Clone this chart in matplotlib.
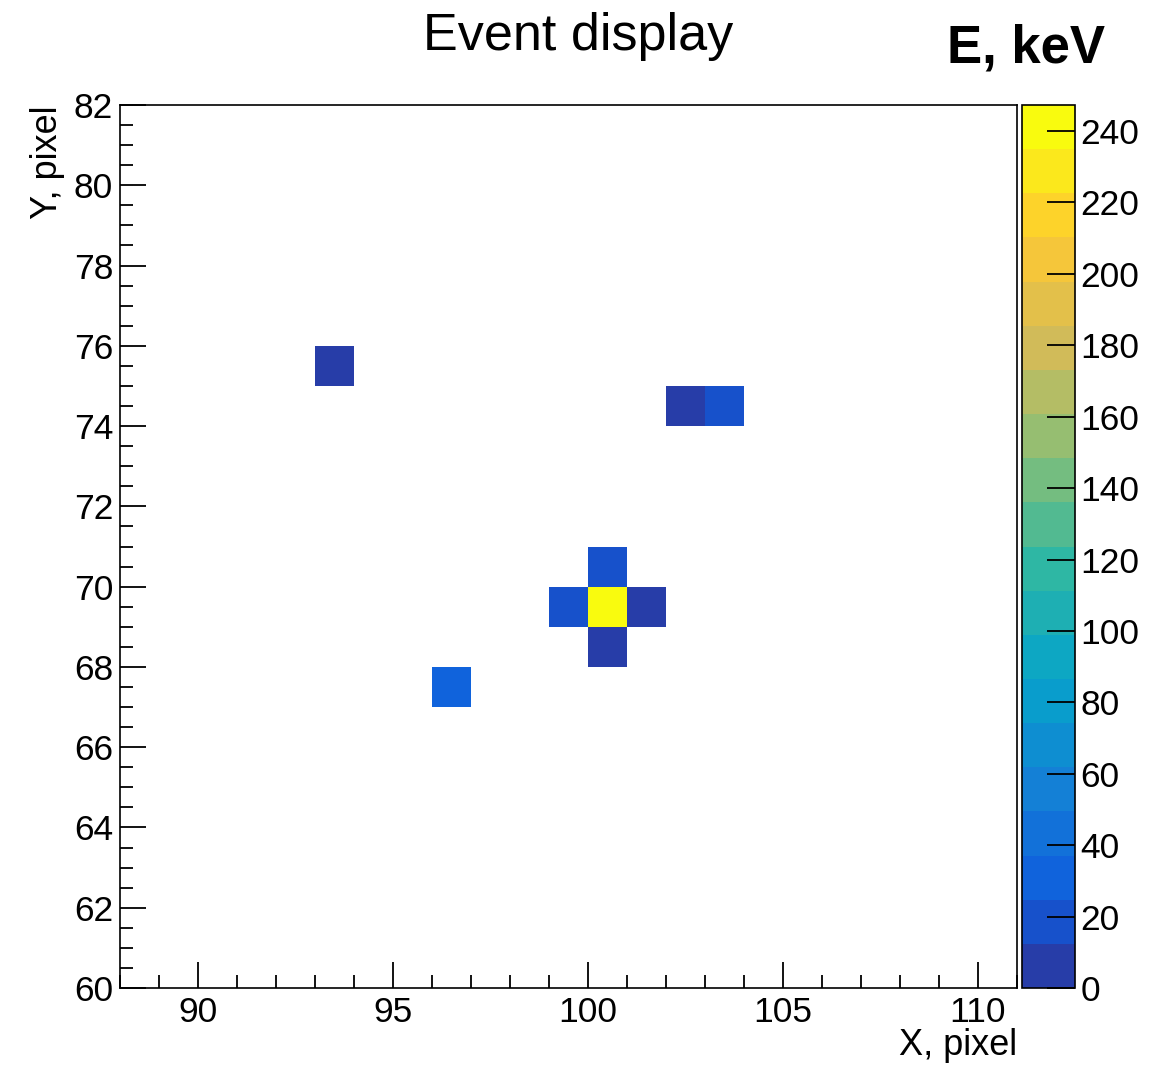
import matplotlib
matplotlib.use("Agg")
import matplotlib.pyplot as plt
import numpy as np
from matplotlib.colors import LinearSegmentedColormap, ListedColormap, BoundaryNorm
from matplotlib.ticker import MultipleLocator

plt.rcParams['font.family'] = ['Liberation Sans', 'DejaVu Sans']

# hit pixels (bin centres) and deposited energy
pix_x = [93.5, 102.5, 103.5, 100.5, 99.5, 100.5, 101.5, 100.5, 96.5]
pix_y = [75.5, 74.5, 74.5, 70.5, 69.5, 69.5, 69.5, 68.5, 67.5]
energy = [8.0, 9.0, 19.0, 20.0, 18.0, 247.3, 7.0, 6.0, 31.0]

x_edges = np.arange(88, 112)
y_edges = np.arange(60, 83)
cbar_ticks = list(range(0, 241, 20))
n_contours = 20

# ROOT kBird palette
stops = np.linspace(0, 1, 9)
red = [0.2082, 0.0592, 0.0780, 0.0232, 0.1802, 0.5301, 0.8186, 0.9956, 0.9764]
green = [0.1664, 0.3599, 0.5041, 0.6419, 0.7178, 0.7492, 0.7328, 0.7862, 0.9832]
blue = [0.5293, 0.8684, 0.8385, 0.7914, 0.6425, 0.4662, 0.3499, 0.1968, 0.0539]
bird = LinearSegmentedColormap.from_list(
    'bird', list(zip(stops, zip(red, green, blue))), N=255)
# colour picked per contour the same way THistPainter does it
band_cols = [bird(int((i + 0.99) * 255 / n_contours) / 254.0) for i in range(n_contours)]
cmap = ListedColormap(band_cols)

H, xe, ye = np.histogram2d(pix_x, pix_y, bins=[x_edges, y_edges], weights=energy)
H = np.ma.masked_equal(H.T, 0)

zmax = max(energy)
levels = np.linspace(0, zmax * 1.00001, n_contours + 1)
norm = BoundaryNorm(levels, cmap.N)

fs = 25.5

fig = plt.figure(figsize=(11.66, 10.65), dpi=100)
ax = fig.add_axes([0.1029, 0.0723, 0.8722 - 0.1029, 0.9014 - 0.0723])
cax = fig.add_axes([0.8765, 0.0723, 0.9220 - 0.8765, 0.9014 - 0.0723])

mesh = ax.pcolormesh(xe, ye, H, cmap=cmap, norm=norm)
ax.set_xlim(88, 111)
ax.set_ylim(60, 82)

ax.xaxis.set_major_locator(MultipleLocator(5))
ax.xaxis.set_minor_locator(MultipleLocator(1))
ax.yaxis.set_major_locator(MultipleLocator(2))
ax.yaxis.set_minor_locator(MultipleLocator(0.5))
ax.tick_params(which='both', direction='in', top=False, right=False, width=1.3)
ax.tick_params(which='major', length=19, labelsize=fs)
ax.tick_params(which='minor', length=9.5)
ax.tick_params(axis='x', pad=6)
ax.tick_params(axis='y', pad=5)
for s in ax.spines.values():
    s.set_linewidth(1.2)

ax.set_xlabel('X, pixel', fontsize=26, loc='right', labelpad=-1)
ax.set_ylabel('Y, pixel', fontsize=26, loc='top', labelpad=6)

cb = fig.colorbar(mesh, cax=cax, ticks=cbar_ticks, drawedges=False)
cb.outline.set_linewidth(1.2)
cax.tick_params(direction='in', length=20, width=1.3, labelsize=fs, pad=4)
cax.minorticks_off()

fig.text(0.496, 0.966, 'Event display', fontsize=37.5, ha='center', va='center')
fig.text(0.880, 0.954, 'E, keV', fontsize=38, fontweight='bold', ha='center', va='center')

fig.savefig('out.png', dpi=100)
